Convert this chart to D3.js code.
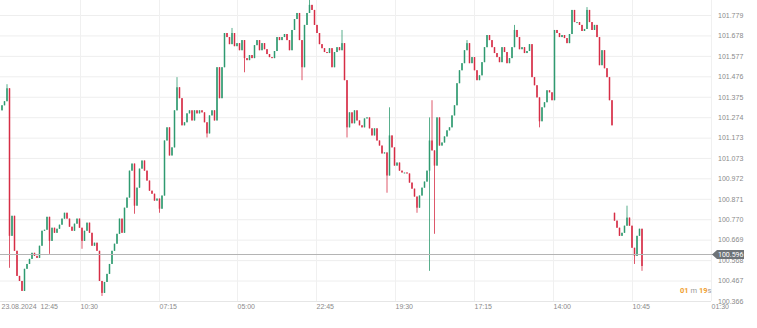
<!DOCTYPE html>
<html>
<head>
<meta charset="utf-8">
<script src="https://cdn.jsdelivr.net/npm/d3@7"></script>
<style>
  body { margin: 0; background: #fff; }
  svg { display: block; font-family: Roboto, "Noto Sans", sans-serif; }
</style>
</head>
<body>
<svg id="chart" width="757" height="328"></svg>
<script>
// close prices, one candle each (open = previous close)
var closes = [
  101.333, 101.353, 101.417, 100.688, 100.787, 100.614, 100.490, 100.465, 100.416, 100.525,
  100.549, 100.574, 100.604, 100.589, 100.579, 100.639, 100.713, 100.718, 100.782, 100.663,
  100.728, 100.703, 100.723, 100.743, 100.773, 100.802, 100.773, 100.733, 100.713, 100.748,
  100.773, 100.728, 100.663, 100.713, 100.753, 100.703, 100.639, 100.654, 100.614, 100.465,
  100.406, 100.460, 100.500, 100.549, 100.614, 100.649, 100.698, 100.773, 100.703, 100.827,
  100.877, 101.010, 101.045, 100.837, 100.926, 101.020, 101.060, 101.010, 100.961, 100.911,
  100.896, 100.862, 100.872, 100.822, 100.887, 101.159, 101.224, 101.085, 101.125, 101.308,
  101.422, 101.368, 101.234, 101.249, 101.293, 101.308, 101.258, 101.308, 101.293, 101.308,
  101.298, 101.249, 101.194, 101.283, 101.308, 101.258, 101.521, 101.368, 101.521, 101.690,
  101.670, 101.635, 101.690, 101.625, 101.640, 101.605, 101.655, 101.566, 101.556, 101.581,
  101.566, 101.630, 101.655, 101.605, 101.640, 101.610, 101.586, 101.571, 101.566, 101.601,
  101.670, 101.655, 101.670, 101.685, 101.655, 101.605, 101.705, 101.759, 101.789, 101.655,
  101.521, 101.730, 101.789, 101.829, 101.804, 101.730, 101.690, 101.635, 101.615, 101.596,
  101.591, 101.615, 101.521, 101.596, 101.620, 101.605, 101.640, 101.457, 101.224, 101.298,
  101.244, 101.308, 101.258, 101.234, 101.224, 101.268, 101.273, 101.219, 101.184, 101.219,
  101.159, 101.134, 101.095, 101.100, 100.986, 101.184, 101.125, 101.035, 101.050, 101.010,
  101.001, 101.001, 100.996, 100.951, 100.921, 100.882, 100.827, 100.887, 100.926, 100.956,
  101.010, 101.159, 101.110, 101.035, 101.273, 101.134, 101.149, 101.179, 101.209, 101.224,
  101.283, 101.333, 101.442, 101.506, 101.541, 101.605, 101.640, 101.541, 101.571, 101.506,
  101.457, 101.481, 101.546, 101.620, 101.680, 101.655, 101.620, 101.591, 101.571, 101.546,
  101.620, 101.596, 101.541, 101.566, 101.620, 101.705, 101.670, 101.610, 101.620, 101.591,
  101.601, 101.635, 101.472, 101.432, 101.372, 101.254, 101.323, 101.348, 101.407, 101.397,
  101.358, 101.705, 101.690, 101.670, 101.680, 101.665, 101.640, 101.685, 101.804, 101.744,
  101.744, 101.730, 101.700, 101.710, 101.804, 101.744, 101.705, 101.730, 101.670, 101.531,
  101.605, 101.516, 101.472, 101.358, 101.234, 100.763, 100.728, 100.688, 100.703, 100.738,
  100.778, 100.738, 100.629, 100.589, 100.688, 100.723, 100.539
];
var firstOpen = 101.308;

// candles that open away from the previous close (session gap)
var gapIndex = [245];
var gapOpen = [100.802];

// long wicks
var spikeIndex = [2, 3, 19, 32, 40, 53, 63, 70, 82, 92, 97, 120, 123, 136, 138, 154, 155, 166, 171, 172, 173, 186, 205, 215, 234, 250, 253, 256];
var spikeHigh = [101.437, null, null, null, null, null, null, 101.472, null, 101.715, null, null, 101.853, 101.705, null, null, 101.323, null, 101.273, 101.358, null, 101.655, 101.730, null, 101.818, 100.837, null, null];
var spikeLow = [null, 100.530, 100.599, 100.624, 100.391, 100.797, 100.802, null, 101.174, null, 101.496, 101.457, null, null, 101.174, 100.901, null, 100.802, 100.515, null, 100.698, null, null, 101.224, null, null, 100.549, 100.515];

var yTicks = [101.779, 101.678, 101.577, 101.476, 101.375, 101.274, 101.173, 101.073, 100.972, 100.871, 100.770, 100.669, 100.568, 100.467, 100.366];
var xTickIdx = [-0.4, 15.2, 31.2, 62.8, 94, 125.6, 157.2, 188.8, 220.4, 252, 283.6];
var xLabels = ["23.08.2024", "12:45", "10:30", "07:15", "05:00", "22:45", "19:30", "17:15", "14:00", "10:45", "01:30"];

var lastPrice = 100.596;
var timerParts = [["01", "num"], [" m ", "unit"], ["19", "num"], ["s", "unit"]];

var upColor = "#2f9a70", downColor = "#d62d45";
var plotRight = 711;

// build candles
var candles = closes.map(function(c, i) {
    var o = i === 0 ? firstOpen : closes[i - 1];
    var g = gapIndex.indexOf(i);
    if (g >= 0) o = gapOpen[g];
    var d = {i: i, open: o, close: c, high: Math.max(o, c), low: Math.min(o, c)};
    var s = spikeIndex.indexOf(i);
    if (s >= 0) {
        if (spikeHigh[s] != null) d.high = Math.max(d.high, spikeHigh[s]);
        if (spikeLow[s] != null) d.low = Math.min(d.low, spikeLow[s]);
    }
    return d;
});

var svg = d3.select("#chart");

var x = d3.scaleLinear().domain([0, closes.length - 1]).range([2, 642]);
var y = d3.scaleLinear().domain([100.366, 101.779]).range([301, 15]);

// horizontal grid + price labels
var yAxis = svg.append("g")
    .attr("transform", "translate(" + plotRight + ",0)")
    .call(d3.axisRight(y).tickValues(yTicks).tickFormat(d3.format(".3f"))
        .tickSize(-plotRight).tickPadding(7));
yAxis.select(".domain").remove();
yAxis.selectAll(".tick line").attr("stroke", "#eeeeee");
yAxis.selectAll(".tick text").attr("fill", "#8a8a8a").attr("font-size", "7px");

// vertical grid + time labels
var xAxis = svg.append("g")
    .attr("transform", "translate(0,301)")
    .call(d3.axisBottom(x).tickValues(xTickIdx)
        .tickFormat(function(d, i) { return xLabels[i]; })
        .tickSize(-301).tickPadding(3));
xAxis.select(".domain").remove();
xAxis.selectAll(".tick line")
    .attr("stroke", function(d, i) { return i < 2 ? "none" : "#f0f0f0"; });
xAxis.selectAll(".tick text")
    .attr("text-anchor", "start")
    .attr("fill", "#8a8a8a").attr("font-size", "7px");

svg.append("line")
    .attr("x1", 0).attr("x2", plotRight)
    .attr("y1", 301.5).attr("y2", 301.5)
    .attr("stroke", "#e6e6e6");
svg.append("line")
    .attr("x1", plotRight + 0.5).attr("x2", plotRight + 0.5)
    .attr("y1", 0).attr("y2", 301)
    .attr("stroke", "#f0f0f0");

// candles
var cg = svg.append("g");
cg.selectAll("line")
    .data(candles)
    .enter()
    .append("line")
    .attr("x1", function(d) { return x(d.i); })
    .attr("x2", function(d) { return x(d.i); })
    .attr("y1", function(d) { return y(d.high); })
    .attr("y2", function(d) { return y(d.low); })
    .attr("stroke", function(d) { return d.close >= d.open ? upColor : downColor; })
    .attr("stroke-width", 0.8);

cg.selectAll("rect")
    .data(candles)
    .enter()
    .append("rect")
    .attr("x", function(d) { return x(d.i) - 0.75; })
    .attr("width", 1.5)
    .attr("y", function(d) { return y(Math.max(d.open, d.close)); })
    .attr("height", function(d) {
        return Math.max(1, Math.abs(y(d.open) - y(d.close)));
    })
    .attr("fill", function(d) { return d.close >= d.open ? upColor : downColor; });

// current price line and tag
var py = Math.round(y(lastPrice)) + 0.5;
svg.append("line")
    .attr("x1", 0).attr("x2", plotRight + 2)
    .attr("y1", py).attr("y2", py)
    .attr("stroke", "#b4b4b4");

svg.append("path")
    .attr("d", "M" + (plotRight + 1) + "," + py +
        "L" + (plotRight + 6) + "," + (py - 4.5) +
        "L744," + (py - 4.5) + "L744," + (py + 4.5) +
        "L" + (plotRight + 6) + "," + (py + 4.5) + "Z")
    .attr("fill", "#6e7377");

svg.append("text")
    .attr("x", 718).attr("y", py + 2.5)
    .attr("fill", "#fff")
    .attr("font-size", "7px")
    .text(d3.format(".3f")(lastPrice));

// countdown
var timer = svg.append("text")
    .attr("x", 680).attr("y", 293)
    .attr("font-size", "7.5px");
timer.selectAll("tspan")
    .data(timerParts)
    .enter()
    .append("tspan")
    .attr("fill", function(d) { return d[1] === "num" ? "#f0a030" : "#9a9a9a"; })
    .attr("font-weight", function(d) { return d[1] === "num" ? "bold" : "normal"; })
    .text(function(d) { return d[0]; });
</script>
</body>
</html>
